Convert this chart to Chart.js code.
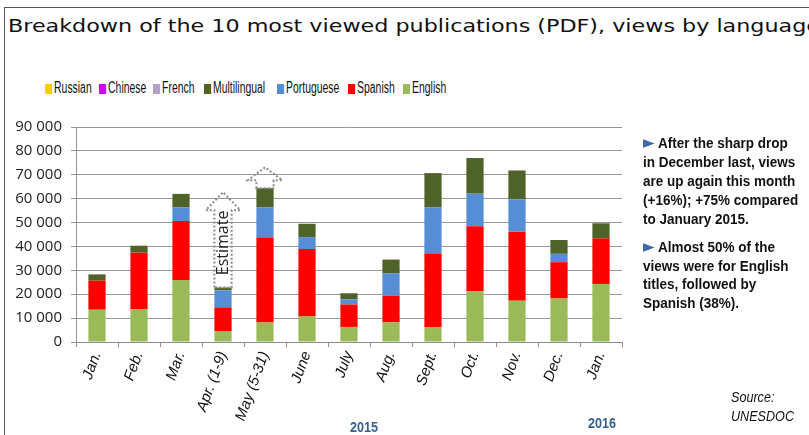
<!DOCTYPE html>
<html>
<head>
<meta charset="utf-8">
<script src="https://cdn.jsdelivr.net/npm/chart.js@4.4.1/dist/chart.umd.min.js"></script>
<style>
  html, body { margin:0; padding:0; background:#fff; }
  #wrap { position:relative; width:809px; height:435px; overflow:hidden; background:#fff; }
  #frame { position:absolute; left:4px; top:7px; width:900px; height:500px; border:1px solid #555; box-sizing:border-box; }
  #title { position:absolute; left:8px; top:15px; white-space:nowrap; font-family:"DejaVu Sans", sans-serif; font-size:18px; color:#111; transform-origin:0 0; }
  #legend { position:absolute; left:0; top:78px; height:18px; }
  .li { position:absolute; top:0; white-space:nowrap; font-family:"Liberation Sans",sans-serif; font-size:16px; color:#111; line-height:19px; transform:scaleX(0.65); transform-origin:0 0; }
  .li i { display:inline-block; width:11px; height:10px; margin-right:3px; vertical-align:-1px; }
  #note { position:absolute; left:643px; top:133px; font-family:"Liberation Sans",sans-serif; font-weight:bold; font-size:15px; color:#111; white-space:nowrap; transform:scaleX(0.9); transform-origin:0 0; }
  #note p { margin:0 0 9px 0; line-height:19px; }
  #note .tri { color:#3A68A8; font-size:17px; font-family:"DejaVu Sans",sans-serif; }
  .yr { position:absolute; font-family:"Liberation Sans",sans-serif; font-weight:bold; font-size:14px; color:#376092; transform:translate(-50%,-50%) scaleX(0.9); }
  #src { position:absolute; left:731px; top:387px; font-family:"Liberation Sans",sans-serif; font-style:italic; font-size:15px; color:#111; line-height:19px; transform:scaleX(0.84); transform-origin:0 0; }
  canvas { position:absolute; left:0; top:0; }
</style>
</head>
<body>
<div id="wrap">
  <div id="frame"></div>
  <div id="title">Breakdown of the 10 most viewed publications (PDF), views by language</div>
  <div id="legend"></div>
  <canvas id="c" width="809" height="435"></canvas>
  <div id="note">
    <p><span class="tri">&#9658;</span> After the sharp drop<br>in December last, views<br>are up again this month<br>(+16%); +75% compared<br>to January 2015.</p>
    <p style="line-height:18.5px"><span class="tri">&#9658;</span> Almost 50% of the<br>views were for English<br>titles, followed by<br>Spanish (38%).</p>
  </div>
  <div class="yr" style="left:364px; top:427px;">2015</div>
  <div class="yr" style="left:602px; top:423px;">2016</div>
  <div id="src">Source:<br>UNESDOC</div>
</div>
<script>
// ---- data ----
const months = ["Jan.", "Feb.", "Mar.", "Apr. (1-9)", "May (5-31)", "June", "July", "Aug.", "Sept.", "Oct.", "Nov.", "Dec.", "Jan."];
const english      = [13500, 13800, 26000, 4600,  8200, 10700,  6300,  8200,  6300, 21300, 17300, 18200, 24300];
const spanish      = [12200, 23600, 24600, 9900, 35500, 28200,  9400, 11100, 30700, 27200, 28900, 15200, 19100];
const portuguese   = [    0,     0,  5700, 7100, 12600,  5000,  2200,  9500, 19300, 13600, 13500,  3500,     0];
const multilingual = [ 2600,  2900,  5700, 1200,  8100,  5600,  2500,  5700, 14400, 14900, 12100,  5800,  6300];
const french       = [0,0,0,0,0,0,0,0,0,0,0,0,0];
const chinese      = [0,0,0,0,0,0,0,0,0,0,0,0,0];
const russian      = [0,0,0,0,0,0,0,0,0,0,0,0,0];
const yTicks = [0, 10000, 20000, 30000, 40000, 50000, 60000, 70000, 80000, 90000];
// estimate arrows (category index, shoulder value, tip value)
const estimateIndex    = [3, 4];
const estimateShoulder = [55200, 67700];
const estimateTip      = [62700, 73100];

const series = [
  {label:"English", data:english, color:"#9BBB59"},
  {label:"Spanish", data:spanish, color:"#FF0000"},
  {label:"Portuguese", data:portuguese, color:"#558ED5"},
  {label:"Multilingual", data:multilingual, color:"#4F6228"},
  {label:"French", data:french, color:"#B3A2C7"},
  {label:"Chinese", data:chinese, color:"#CC00FF"},
  {label:"Russian", data:russian, color:"#FFCC00"}
];

// fit title width
const t = document.getElementById('title');
t.style.transform = 'scaleX(' + (812 / t.scrollWidth) + ')';

// html legend (reverse order)
const legendX = [45, 99, 153, 204, 277, 348, 403];
const lg = document.getElementById('legend');
series.slice().reverse().forEach((s, i) => {
  const d = document.createElement('div');
  d.className = 'li';
  d.style.left = legendX[i] + 'px';
  d.innerHTML = '<i style="background:' + s.color + '"></i>' + s.label;
  lg.appendChild(d);
});

const estimatePlugin = {
  id: 'estimate',
  afterDatasetsDraw(chart) {
    const ctx = chart.ctx;
    const y = chart.scales.y;
    estimateIndex.forEach((idx, k) => {
      let total = 0;
      chart.data.datasets.forEach(ds => total += ds.data[idx]);
      const bar = chart.getDatasetMeta(0).data[idx];
      const cx = bar.x, w = bar.width;
      const yb = y.getPixelForValue(total);
      const ys = y.getPixelForValue(estimateShoulder[k]);
      const yt = y.getPixelForValue(estimateTip[k]);
      const hw = w / 2, hh = w;
      ctx.save();
      ctx.strokeStyle = '#8a8a8a';
      ctx.lineWidth = 2;
      ctx.setLineDash([2, 2]);
      ctx.beginPath();
      ctx.moveTo(cx - hw, yb);
      ctx.lineTo(cx - hw, ys);
      ctx.lineTo(cx - hh, ys);
      ctx.lineTo(cx, yt);
      ctx.lineTo(cx + hh, ys);
      ctx.lineTo(cx + hw, ys);
      ctx.lineTo(cx + hw, yb);
      ctx.closePath();
      ctx.stroke();
      if (k === 0) {
        ctx.setLineDash([]);
        ctx.translate(cx, (yb + yt) / 2 + 3);
        ctx.rotate(-Math.PI / 2);
        ctx.fillStyle = '#222';
        ctx.font = '16px "Open Sans", sans-serif';
        ctx.textAlign = 'center';
        ctx.textBaseline = 'middle';
        ctx.fillText('Estimate', 0, 0);
      }
      ctx.restore();
    });
  }
};

new Chart(document.getElementById('c'), {
  type: 'bar',
  data: {
    labels: months,
    datasets: series.map(s => ({
      label: s.label, data: s.data, backgroundColor: s.color,
      borderWidth: 0, categoryPercentage: 1, barPercentage: 0.41
    }))
  },
  options: {
    responsive: false,
    animation: false,
    events: [],
    layout: { padding: { top: 127, right: 187, bottom: 0, left: 0 } },
    plugins: { legend: { display: false }, tooltip: { enabled: false }, title: { display: false } },
    scales: {
      x: {
        stacked: true,
        afterFit(s) { s.height = 93; },
        grid: { drawOnChartArea: false, drawTicks: true, tickLength: 5, color: '#8c8c8c', offset: true },
        border: { color: '#8c8c8c' },
        ticks: {
          autoSkip: false, minRotation: 70, maxRotation: 70, padding: 2,
          color: '#111', font: { family: '"Liberation Sans", sans-serif', size: 15, style: 'italic' }
        }
      },
      y: {
        stacked: true, min: 0, max: 90000,
        afterFit(s) { s.width = 76; },
        afterBuildTicks(s) { s.ticks = yTicks.map(v => ({ value: v })); },
        grid: { color: '#969696', tickLength: 5 },
        border: { color: '#969696' },
        ticks: {
          padding: 9, color: '#222',
          font: { family: '"Open Sans", sans-serif', size: 15 },
          callback: v => String(v).replace(/\B(?=(\d{3})+(?!\d))/g, ' ')
        }
      }
    }
  },
  plugins: [estimatePlugin]
});
</script>
</body>
</html>
